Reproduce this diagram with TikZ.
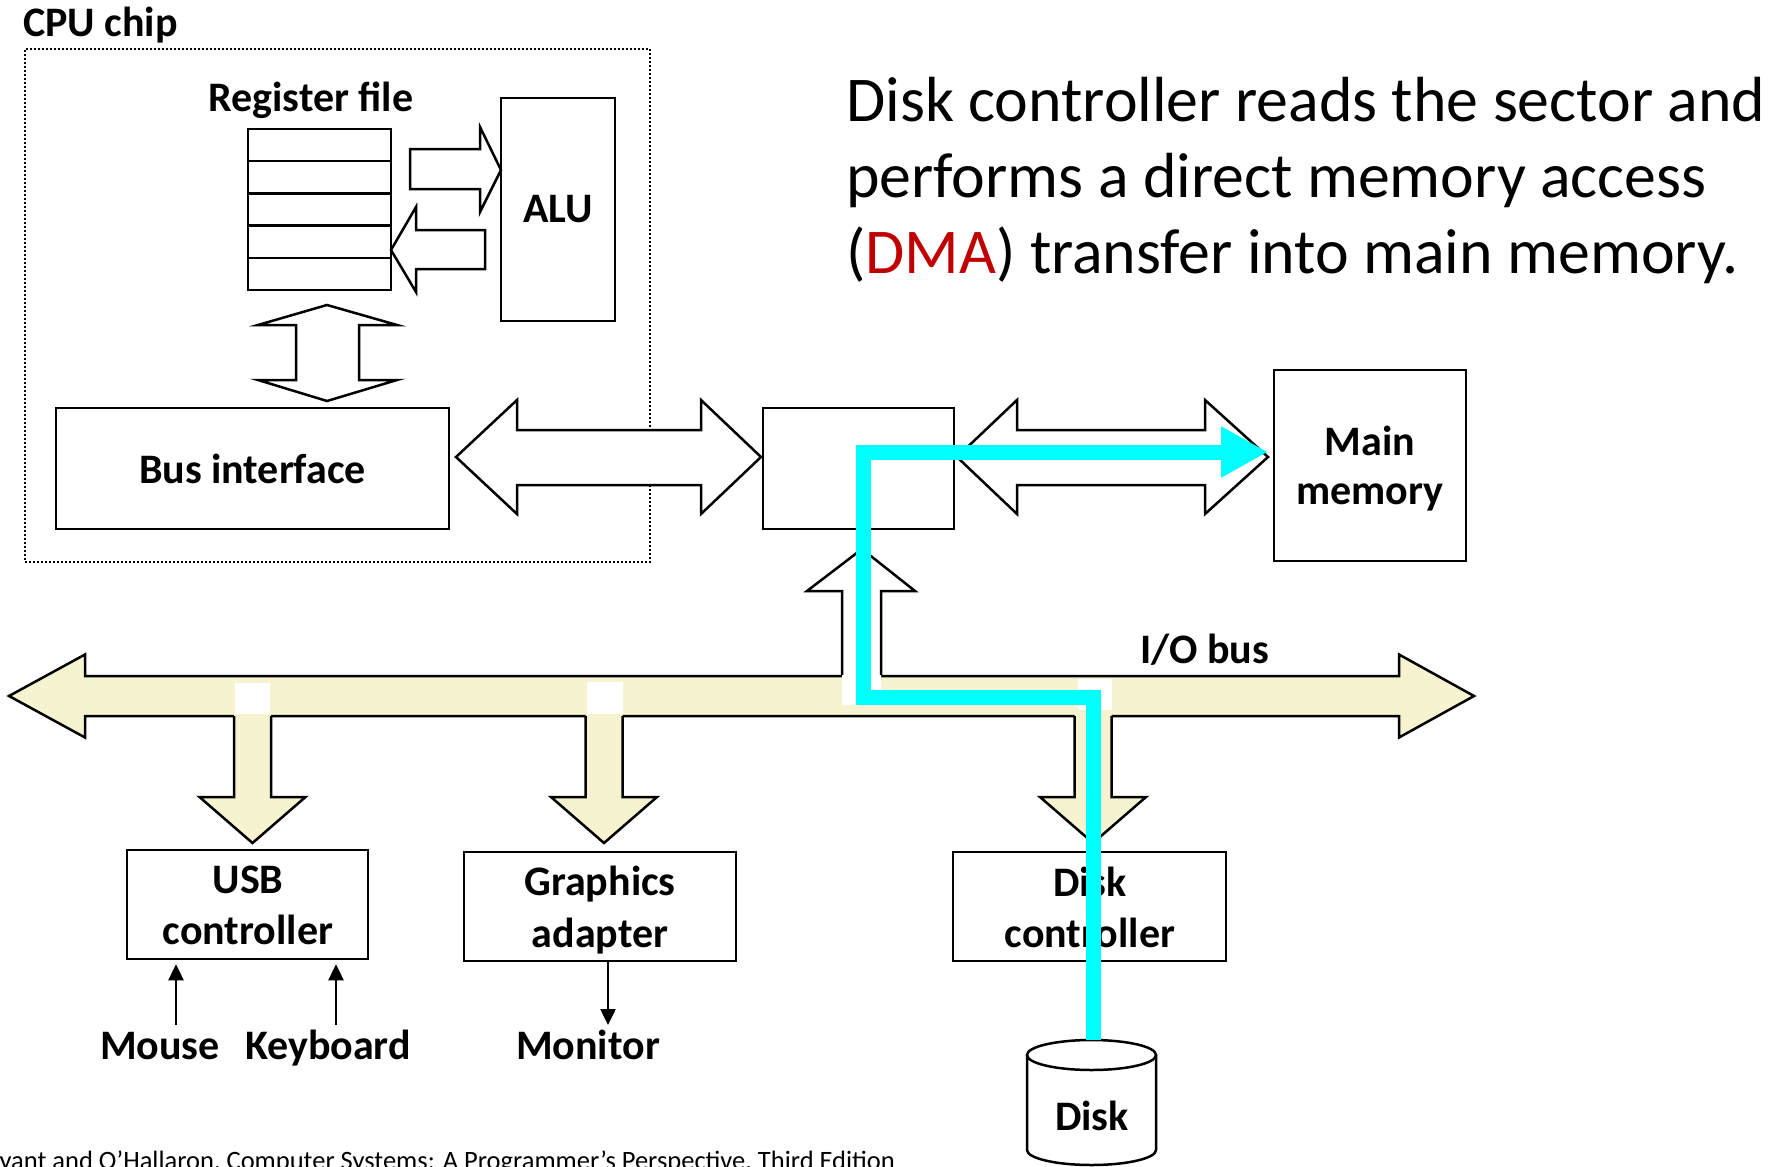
\documentclass[tikz,border=0pt]{standalone}
\usepackage{fontspec}
\setmainfont{Carlito}
\usetikzlibrary{arrows.meta,calc}
\definecolor{cream}{RGB}{246,244,208}
\definecolor{dmacyan}{RGB}{0,255,255}
\definecolor{dmared}{RGB}{192,0,0}
\newcommand\lblfont{\fontsize{42}{50}\selectfont\bfseries}
\begin{document}
\begin{tikzpicture}[x=1pt,y=-1pt,
  box/.style={draw, line width=2.5pt, inner sep=0pt, fill=white},
  lbl/.style={font=\lblfont, inner sep=0pt, anchor=base},
  blk/.style={draw, line width=2.5pt, fill=white, line join=miter},
  tarrow/.style={line width=2.5pt, -{Triangle[length=16pt,width=15pt]}},
  dma/.style={draw=dmacyan, line width=15pt, line join=miter, -{Triangle[length=47pt,width=48pt]}},
  bigt/.style={font=\fontsize{63.8}{76}\selectfont, inner sep=0pt, anchor=base west}
]
\clip (0,0) rectangle (1781,1167);
\fill[white] (0,0) rectangle (1781,1167);

% CPU chip
\node[draw, line width=2pt, dash pattern=on 2pt off 2pt, minimum width=625pt, minimum height=513pt, inner sep=0pt] (cpu) at (337.5,305.5) {};
\node[lbl, anchor=base west] (cpul) at (23,36) {CPU chip};
\node[lbl] (regl) at (311,111) {Register file};

% register file
\node[box, minimum width=143pt, minimum height=161pt] (reg) at (319.5,209.5) {};
\foreach \y in {161.2,193.4,225.6,257.8} \draw[line width=2.5pt] (248,\y) -- (391,\y);

% ALU
\node[box, font=\lblfont, minimum width=114pt, minimum height=223pt] (alu) at (558,209.5) {ALU};

% reg <-> ALU arrows
\draw[blk] (410,149) -- (480,149) -- (480,127) -- (501,170) -- (480,212) -- (480,189) -- (410,189) -- cycle;
\draw[blk] (485,230) -- (416,230) -- (416,207) -- (391,250) -- (416,292) -- (416,269) -- (485,269) -- cycle;

% reg <-> bus interface
\draw[blk] (327,305) -- (397,325) -- (359,325) -- (359,380) -- (397,380) -- (327,401) -- (258,380) -- (296,380) -- (296,325) -- (258,325) -- cycle;

% boxes
\node[box, font=\lblfont, minimum width=393pt, minimum height=121pt] (iface) at (252.5,468.5) {Bus interface};
\node[box, minimum width=191pt, minimum height=121pt] (bridge) at (858.5,468.5) {};
\node[box, minimum width=192pt, minimum height=191pt] (mem) at (1370,465.5) {};
\node[lbl] (meml1) at (1370,455) {Main};
\node[lbl] (meml2) at (1370,504) {memory};

% double arrows
\draw[blk] (456,457) -- (517,400) -- (517,430) -- (701,430) -- (701,400) -- (761,457) -- (701,514) -- (701,485) -- (517,485) -- (517,514) -- cycle;
\draw[blk] (957,457) -- (1017,400) -- (1017,430) -- (1205,430) -- (1205,400) -- (1268,457) -- (1205,514) -- (1205,485) -- (1017,485) -- (1017,514) -- cycle;

% I/O bus
\draw[line width=2.5pt, fill=cream, line join=miter] (9,696) -- (85,654.5) -- (85,676) -- (1399,676) -- (1399,654.5) -- (1474,696) -- (1399,737.5) -- (1399,716) -- (85,716) -- (85,737.5) -- cycle;
\node[lbl, anchor=base west] (iobus) at (1140,663) {I/O bus};

% drop arrows
\foreach \cx in {252.5,604,1093} {
  \fill[cream] ({\cx-18.5},712) -- ({\cx-18.5},797) -- ({\cx-53},797) -- (\cx,843) -- ({\cx+53},797) -- ({\cx+18.5},797) -- ({\cx+18.5},712) -- cycle;
  \draw[line width=2.5pt, line join=miter] ({\cx-18.5},716) -- ({\cx-18.5},797) -- ({\cx-53},797) -- (\cx,843) -- ({\cx+53},797) -- ({\cx+18.5},797) -- ({\cx+18.5},716);
}
\fill[white] (235,683) rectangle (270,714);
\fill[white] (587,682) rectangle (623,714);
\fill[white] (1078,679) rectangle (1112,710);

% up arrow into bridge
\fill[white] (842,705) -- (842,591) -- (807,591) -- (862,549) -- (915,591) -- (881,591) -- (881,705) -- cycle;
\draw[line width=2.5pt, line join=miter] (842,674.8) -- (842,591) -- (807,591) -- (862,549) -- (915,591) -- (881,591) -- (881,674.8);

% lower boxes
\node[box, minimum width=241pt, minimum height=109pt] (usb) at (247.5,904.5) {};
\node[lbl] (usbl1) at (248,893) {USB};
\node[lbl] (usbl2) at (248,944) {controller};
\node[box, minimum width=272pt, minimum height=109pt] (gfx) at (600,906.5) {};
\node[lbl] (gfxl1) at (600,895) {Graphics};
\node[lbl] (gfxl2) at (600,947) {adapter};
\node[box, minimum width=273pt, minimum height=109pt] (dctl) at (1089.5,906.5) {};
\node[lbl] (dctll1) at (1090,896) {Disk};
\node[lbl] (dctll2) at (1090,947) {controller};

\node[lbl] (mouse) at (160,1059) {Mouse};
\node[lbl] (kbd) at (328,1059) {Keyboard};
\node[lbl] (mon) at (588,1059) {Monitor};

\coordinate (ms) at (176,1025);
\coordinate (kb) at (336,1025);
\coordinate (mn) at (608,1025);
\draw[tarrow] (ms) -- ([yshift=-4pt]ms |- usb.south);
\draw[tarrow] (kb) -- ([yshift=-4pt]kb |- usb.south);
\draw[tarrow] (mn |- gfx.south) -- (mn);

% disk
\draw[line width=2.5pt, fill=white] (1027,1055) -- (1027,1150) arc[start angle=180, end angle=360, x radius=64.5pt, y radius=15pt] -- (1156,1055);
\draw[line width=2.5pt] (1091.5,1055) ellipse[x radius=64.5pt, y radius=15pt];
\node[lbl] (disk) at (1092,1130) {Disk};

% DMA path
\coordinate (disktop) at (1093,1040);
\coordinate (memin) at (1268,452);
\draw[dma] (disktop) -- (1093,697) -- (863,697) -- (863,452) -- (memin);

% text
\node[bigt] (t1) at (846,121) {Disk controller reads the sector and};
\node[bigt] (t2) at (846,197) {performs a direct memory access};
\node[bigt] (t3) at (846,273) {(\textcolor{dmared}{DMA}) transfer into main memory.};

\node[font=\fontsize{26.5}{32}\selectfont, anchor=base east, inner sep=0pt] (foot) at (895,1169) {Bryant and O’Hallaron, Computer Systems: A Programmer’s Perspective, Third Edition};
\end{tikzpicture}
\end{document}
